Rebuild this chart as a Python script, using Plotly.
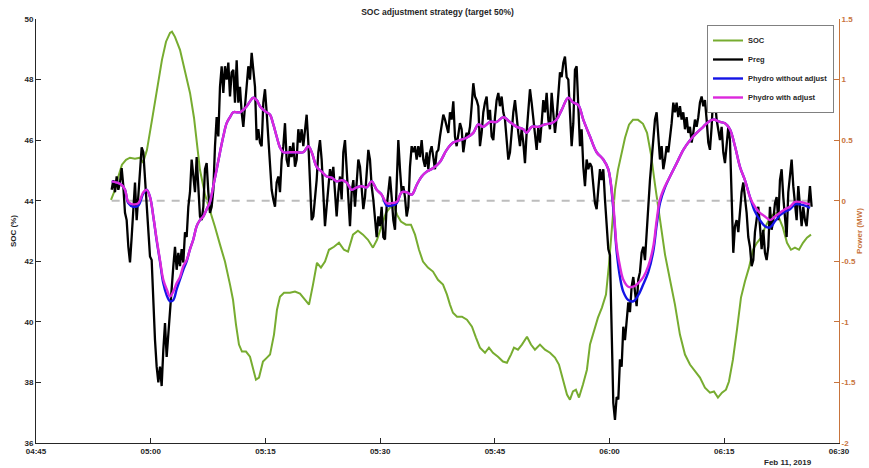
import numpy as np
import pandas as pd
import plotly.graph_objects as go

# ---------------- data ----------------
DAY = "2019-02-11"
START = "04:45:00"
END_MIN = 105  # 06:30

# Preg, regularly sampled (minutes after 04:45 of first sample, sample step in minutes)
preg_start_min = 9.894
preg_step_min = 0.21792
preg = [
    0.09, 0.17, 0.07, 0.20, 0.09, 0.15, 0.27, 0.12, -0.10, -0.16,
    -0.38, -0.51, -0.30, -0.05, 0.15, -0.16, 0.07, 0.28, 0.44, 0.40,
    0.17, -0.05, -0.21, -0.46, -0.49, -0.90, -1.15, -1.37, -1.50, -1.37,
    -1.53, -1.23, -1.01, -1.29, -1.09, -0.92, -0.68, -0.54, -0.38, -0.57,
    -0.43, -0.54, -0.40, -0.51, -0.26, -0.30, -0.05, 0.07, 0.34, 0.20,
    0.07, 0.36, 0.12, -0.13, -0.16, -0.05, 0.26, 0.31, 0.07, -0.10,
    -0.05, 0.09, 0.45, 0.69, 0.53, 0.94, 1.11, 0.89, 1.11, 1.00,
    1.14, 0.86, 1.06, 1.08, 0.81, 1.16, 0.81, 0.94, 0.73, 0.61,
    0.78, 0.97, 1.11, 1.00, 1.22, 1.08, 0.94, 0.50, 0.59, 0.48,
    0.45, 0.81, 0.92, 0.73, 0.53, 0.31, 0.09, 0.01, -0.05, 0.15,
    0.20,
    0.07, 0.34, 0.45, 0.64, 0.34, 0.28, 0.45, 0.36, 0.48, 0.28,
    0.34, 0.59, 0.48, 0.59, 0.45, 0.61, 0.71, 0.48, 0.20, -0.16,
    -0.13, 0.01, 0.17, 0.40, 0.50, 0.34, 0.07, -0.21, -0.05, 0.12,
    0.26, 0.17, 0.28, 0.07, -0.13, 0.07, 0.20, 0.01, 0.40, 0.50,
    0.23, -0.05, -0.21, 0.07, 0.17, -0.05, 0.12, 0.34, 0.28, 0.09,
    -0.07, 0.03, 0.28, 0.42, 0.34, 0.12, 0.01, -0.16, -0.30, -0.13,
    -0.21, -0.05, -0.30, -0.32, -0.05, 0.07, 0.20, 0.03, -0.16, -0.24,
    0.07, 0.50, 0.26, 0.07, 0.12, 0.03, -0.13, -0.05, 0.28, 0.45,
    0.40, 0.45, 0.34, 0.45, 0.36, 0.50, 0.34, 0.28, 0.40, 0.26,
    0.40, 0.45, 0.36, 0.26, 0.40, 0.42, 0.53, 0.64, 0.71, 0.67,
    0.61,
    0.56, 0.73, 0.67, 0.82, 0.53, 0.45, 0.56, 0.64, 0.59, 0.40,
    0.50, 0.56, 0.53, 0.61, 0.78, 0.97, 0.86, 0.83, 0.78, 0.45,
    0.56, 0.73, 0.81, 0.86, 0.67, 0.75, 0.53, 0.50, 0.69, 0.83,
    0.89, 0.78, 0.86, 0.73, 0.67, 0.53, 0.34, 0.40, 0.59, 0.73,
    0.83, 0.67, 0.56, 0.45, 0.59, 0.48, 0.31, 0.56, 0.78, 0.92,
    0.81, 0.67, 0.56, 0.42, 0.61, 0.48, 0.64, 0.83, 0.73, 0.89,
    0.67, 0.59, 0.89, 0.75, 0.56, 0.69, 0.92, 1.06, 1.02, 1.14,
    1.19, 1.02, 1.00, 0.73, 0.45, 0.64, 1.08, 1.11, 0.81, 0.45,
    0.59, 0.28, 0.12, 0.34, 0.26, 0.31, 0.28, 0.15, -0.02, -0.07,
    0.13, 0.26, 0.17, 0.26, 0.01, -0.22, -0.40,
    -0.45, -0.98, -1.67, -1.81, -1.62, -1.64, -1.31, -1.37, -1.04, -1.15,
    -0.96, -0.84, -0.92, -0.71, -0.63, -0.76, -0.87, -0.65, -0.59, -0.43,
    -0.38, -0.49, -0.21, -0.05, 0.17, 0.34, 0.53, 0.67, 0.73, 0.56,
    0.34, 0.45, 0.26, 0.34, 0.45, 0.40, 0.50, 0.64, 0.81, 0.73,
    0.81, 0.69, 0.78, 0.67, 0.73, 0.59, 0.69, 0.56, 0.61, 0.48,
    0.56, 0.67, 0.61, 0.69, 0.81, 0.86, 0.78, 0.83, 0.67, 0.48,
    0.42, 0.61, 0.89, 0.83, 0.67, 0.56, 0.50, 0.61, 0.40, 0.31,
    0.50, 0.61, 0.50, -0.05, -0.43, -0.21, -0.16, -0.26, -0.05, 0.07,
    0.15, 0.03, -0.10, -0.30, -0.38, -0.54, -0.49, -0.26, -0.16, -0.05,
    -0.21, -0.40, -0.24, -0.43, -0.49, -0.38, -0.05, -0.24, -0.16, -0.02,
    0.03, -0.16, 0.17, 0.26, 0.03, -0.16, -0.30, 0.07, 0.23, 0.34,
    0.12, -0.05, -0.16, 0.12, -0.05, -0.21, -0.05, -0.16, -0.21, -0.05,
    0.12, -0.05,
]

# Phydro (minutes after 04:45)
hydro_min = [
    9.90, 10.55, 11.21, 11.64, 12.07, 12.72, 13.38, 14.03, 14.47, 14.91,
    15.34, 15.78, 16.21, 16.64, 17.09, 17.52, 17.95, 18.40, 18.83, 19.26,
    19.70, 20.14, 20.57, 21.01, 21.44, 21.87, 22.32, 22.75, 23.18, 23.63,
    24.06, 24.49, 24.93, 25.37, 25.80, 26.24, 26.67, 27.11, 27.55, 27.98,
    28.41, 28.86, 29.29, 29.72, 30.16, 30.60, 31.03, 31.47, 31.90, 32.34,
    33.21, 34.09, 34.95, 35.60, 36.05, 36.70, 37.36, 38.01, 38.66, 39.32,
    39.98, 40.63, 41.28, 41.94, 42.59, 43.25, 43.89, 44.55, 45.20, 45.86,
    46.51, 47.17, 47.82, 48.47, 49.13, 49.78, 50.43, 51.09, 51.95, 52.82,
    53.70, 54.56, 55.44, 56.31, 57.18, 57.83, 58.48, 59.36, 60.24, 61.10,
    61.98, 62.85, 63.71, 64.16, 64.81, 65.68, 66.55, 67.43, 68.08, 68.74,
    69.60, 70.25, 70.91, 71.56, 72.44, 73.31, 74.18, 74.83, 75.48, 75.93,
    76.36, 76.79, 77.45, 78.10, 78.75, 79.41, 80.06, 80.71, 81.16, 81.59,
    82.25, 82.90, 83.78, 84.64, 85.52, 86.39, 87.25, 87.91, 88.56, 89.44,
    90.09, 90.74, 91.40, 92.05, 92.70, 93.36, 94.01, 94.66, 95.32, 95.97,
    96.63, 97.28, 97.93, 98.59, 99.24, 99.89, 100.55, 101.20,
]
phydro_adjust = [
    0.16, 0.15, 0.13, 0.09, -0.01, -0.03, -0.02, 0.07, 0.09, 0.03,
    -0.13, -0.32, -0.49, -0.65, -0.73, -0.79, -0.75, -0.68, -0.63, -0.54,
    -0.49, -0.40, -0.32, -0.21, -0.16, -0.13, -0.07, -0.01, 0.12, 0.26,
    0.40, 0.53, 0.64, 0.69, 0.73, 0.73, 0.73, 0.75, 0.78, 0.82,
    0.85, 0.83, 0.78, 0.75, 0.73, 0.71, 0.63, 0.53, 0.44, 0.40,
    0.40, 0.40, 0.40, 0.45, 0.40, 0.28, 0.24, 0.20, 0.19, 0.16,
    0.17, 0.15, 0.09, 0.11, 0.12, 0.11, 0.16, 0.09, 0.05, -0.02,
    -0.02, -0.01, 0.07, 0.07, 0.05, 0.13, 0.20, 0.24, 0.27, 0.32,
    0.42, 0.48, 0.50, 0.52, 0.56, 0.63, 0.61, 0.65, 0.65, 0.69,
    0.65, 0.61, 0.59, 0.56, 0.61, 0.61, 0.63, 0.64, 0.67, 0.75,
    0.85, 0.81, 0.79, 0.67, 0.53, 0.40, 0.34, 0.26, -0.03, -0.38,
    -0.54, -0.65, -0.71, -0.71, -0.68, -0.63, -0.54, -0.38, -0.16, 0.01,
    0.12, 0.20, 0.31, 0.42, 0.50, 0.56, 0.61, 0.65, 0.67, 0.65,
    0.64, 0.59, 0.45, 0.28, 0.17, 0.03, -0.05, -0.10, -0.13, -0.16,
    -0.13, -0.10, -0.07, -0.05, -0.01, -0.01, -0.02, -0.03,
]
phydro_noadjust = [
    0.16, 0.15, 0.13, 0.09, -0.02, -0.05, -0.04, 0.06, 0.09, 0.03,
    -0.13, -0.33, -0.50, -0.68, -0.78, -0.83, -0.82, -0.73, -0.65, -0.57,
    -0.50, -0.40, -0.32, -0.21, -0.16, -0.13, -0.07, -0.01, 0.12, 0.26,
    0.40, 0.53, 0.64, 0.69, 0.73, 0.73, 0.73, 0.75, 0.78, 0.82,
    0.85, 0.83, 0.78, 0.75, 0.73, 0.71, 0.63, 0.53, 0.44, 0.40,
    0.40, 0.40, 0.40, 0.45, 0.40, 0.28, 0.24, 0.20, 0.19, 0.16,
    0.17, 0.15, 0.09, 0.11, 0.12, 0.11, 0.16, 0.09, 0.05, -0.04,
    -0.04, -0.02, 0.07, 0.07, 0.05, 0.13, 0.20, 0.24, 0.27, 0.32,
    0.42, 0.48, 0.50, 0.52, 0.56, 0.63, 0.61, 0.65, 0.65, 0.69,
    0.65, 0.61, 0.59, 0.56, 0.61, 0.61, 0.63, 0.64, 0.67, 0.75,
    0.85, 0.81, 0.79, 0.67, 0.53, 0.40, 0.34, 0.26, -0.06, -0.42,
    -0.63, -0.75, -0.82, -0.83, -0.78, -0.69, -0.59, -0.42, -0.20, -0.02,
    0.11, 0.20, 0.31, 0.42, 0.50, 0.56, 0.61, 0.65, 0.67, 0.65,
    0.64, 0.59, 0.45, 0.28, 0.17, 0.03, -0.09, -0.16, -0.21, -0.22,
    -0.17, -0.12, -0.09, -0.07, -0.03, -0.03, -0.04, -0.06,
]

# SOC (minutes after 04:45, %)
soc_min = [
    9.81, 10.33, 10.72, 11.24, 11.77, 12.29, 12.94, 13.60, 13.99, 14.51,
    15.17, 15.82, 16.47, 17.00, 17.52, 17.78, 18.17, 18.83, 19.48, 20.14,
    20.66, 21.05, 21.44, 22.10, 22.75, 23.40, 24.06, 24.71, 25.37, 25.76,
    26.15, 26.54, 26.93, 27.46, 27.98, 28.37, 28.76, 29.16, 29.68, 30.20,
    30.60, 31.12, 31.51, 31.90, 32.43, 33.21, 33.86, 34.52, 35.17, 35.70,
    36.22, 36.74, 37.26, 37.79, 38.31, 38.97, 39.62, 40.27, 40.80, 41.45,
    42.10, 42.76, 43.41, 44.06, 44.59, 45.11, 45.76, 46.29, 46.68, 47.20,
    47.72, 48.38, 49.03, 49.56, 50.08, 50.60, 51.25, 51.91, 52.56, 53.22,
    53.74, 54.13, 54.52, 55.05, 55.70, 56.35, 57.01, 57.53, 58.05, 58.71,
    59.23, 59.75, 60.41, 61.06, 61.58, 62.11, 62.50, 63.02, 63.54, 64.20,
    64.72, 65.24, 65.90, 66.55, 67.21, 67.86, 68.38, 68.91, 69.43, 69.82,
    70.21, 70.60, 71.00, 71.52, 72.04, 72.44, 72.96, 73.48, 74.00, 74.53,
    74.92, 75.31, 75.71, 76.10, 76.49, 77.02, 77.54, 78.06, 78.72, 79.37,
    79.90, 80.42, 80.94, 81.59, 82.25, 82.90, 83.55, 84.20, 84.86, 85.51,
    86.16, 86.82, 87.47, 88.13, 88.65, 89.17, 89.70, 90.22, 90.61, 91.13,
    91.66, 92.18, 92.70, 93.23, 93.75, 94.27, 94.80, 95.32, 95.84, 96.37,
    96.89, 97.28, 97.67, 98.20, 98.72, 99.24, 99.77, 100.29, 100.81, 101.34,
]
soc = [
    44.03, 44.36, 44.76, 45.19, 45.35, 45.42, 45.39, 45.42, 45.25, 45.68,
    46.67, 47.66, 48.65, 49.25, 49.54, 49.58, 49.41, 48.98, 48.32, 47.56,
    46.74, 45.78, 45.02, 44.20, 43.70, 43.14, 42.55, 41.99, 41.23, 40.73,
    39.91, 39.25, 39.02, 39.02, 38.85, 38.49, 38.09, 38.16, 38.69, 38.82,
    38.92, 39.58, 40.40, 40.83, 40.96, 40.96, 41.00, 40.93, 40.73, 40.57,
    41.23, 41.95, 41.79, 41.99, 42.38, 42.48, 42.61, 42.38, 42.32, 42.88,
    43.01, 42.88, 42.71, 42.45, 42.71, 43.11, 43.60, 43.77, 43.93, 43.54,
    43.31, 43.21, 43.21, 42.88, 42.38, 41.99, 41.79, 41.66, 41.39, 41.23,
    40.90, 40.57, 40.30, 40.17, 40.17, 40.07, 39.84, 39.48, 39.15, 38.98,
    39.15, 38.98, 38.85, 38.69, 38.65, 38.92, 39.15, 39.08, 39.25, 39.51,
    39.25, 39.08, 39.25, 39.08, 38.98, 38.82, 38.59, 38.09, 37.60, 37.43,
    37.70, 37.76, 37.50, 37.93, 38.42, 39.25, 39.74, 40.14, 40.47, 40.90,
    41.89, 43.21, 44.36, 45.02, 45.52, 46.08, 46.51, 46.67, 46.67, 46.54,
    46.24, 45.52, 44.53, 43.37, 42.22, 41.39, 40.57, 39.58, 38.92, 38.59,
    38.36, 38.16, 37.83, 37.66, 37.70, 37.50, 37.66, 37.76, 38.03, 38.75,
    39.74, 40.80, 41.33, 41.79, 42.38, 42.61, 42.78, 43.11, 43.37, 43.54,
    43.60, 43.37, 43.11, 42.61, 42.38, 42.45, 42.38, 42.61, 42.78, 42.88,
]

x_tick_min = [0, 15, 30, 45, 60, 75, 90, 105]
x_tick_text = ["04:45", "05:00", "05:15", "05:30", "05:45", "06:00", "06:15", "06:30"]
soc_ticks = [36, 38, 40, 42, 44, 46, 48, 50]
power_ticks = [-2, -1.5, -1, -0.5, 0, 0.5, 1, 1.5]
power_tick_text = ["-2", "-1.5", "-1", "-0.5", "0", "0.5", "1", "1.5"]
zero_line = [0, 0]

# ---------------- figure ----------------
base = pd.Timestamp(f"{DAY} {START}")


def at(mins):
    return base + pd.to_timedelta(np.asarray(mins, dtype=float), unit="m")


preg_t = at(preg_start_min + preg_step_min * np.arange(len(preg)))
hydro_t = at(hydro_min)
soc_t = at(soc_min)

FONT = "Liberation Sans, Arial, Helvetica, sans-serif"
AX = "#262626"
ORANGE = "#C8743C"

fig = go.Figure()
fig.add_trace(go.Scatter(x=soc_t, y=soc, name="SOC", mode="lines",
                         line=dict(color="#77AC30", width=2), yaxis="y"))
fig.add_trace(go.Scatter(x=[preg_t[0], preg_t[-1]], y=zero_line, mode="lines",
                         showlegend=False, hoverinfo="skip",
                         line=dict(color="#BDBDBD", width=2, dash="8px,7px"), yaxis="y2"))
fig.add_trace(go.Scatter(x=preg_t, y=preg, name="Preg", mode="lines",
                         line=dict(color="#000000", width=2.3), yaxis="y2"))
fig.add_trace(go.Scatter(x=hydro_t, y=phydro_noadjust, name="Phydro without adjust",
                         mode="lines", line=dict(color="#1414E6", width=2.4, shape="spline"),
                         yaxis="y2"))
fig.add_trace(go.Scatter(x=hydro_t, y=phydro_adjust, name="Phydro with adjust",
                         mode="lines", line=dict(color="#DC28DC", width=2.4, shape="spline"),
                         yaxis="y2"))

tickfont = dict(family=FONT, size=8, color=AX, weight="bold")

fig.update_layout(
    width=869, height=468,
    margin=dict(l=36, r=30, t=19, b=25, autoexpand=False),
    paper_bgcolor="white", plot_bgcolor="white",
    font=dict(family=FONT, size=8, color=AX, weight="bold"),
    title=dict(text="SOC adjustment strategy (target 50%)", x=0.5, xref="paper",
               xanchor="center", y=1 - 12 / 468, yref="container", yanchor="middle",
               font=dict(family=FONT, size=8.5, color=AX, weight="bold")),
    xaxis=dict(type="date", range=[at([0])[0], at([END_MIN])[0]],
               tickvals=list(at(x_tick_min)), ticktext=x_tick_text,
               ticks="inside", ticklen=5, tickcolor=AX, tickwidth=1,
               showline=True, linecolor=AX, linewidth=1, showgrid=False,
               zeroline=False, tickfont=tickfont, automargin=False),
    yaxis=dict(range=[36, 50], tickvals=soc_ticks, ticks="inside", ticklen=5,
               tickcolor=AX, showline=True, linecolor=AX, linewidth=1,
               showgrid=False, zeroline=False, tickfont=tickfont, automargin=True,
               title=dict(text="SOC (%)", font=dict(family=FONT, size=8, color=AX, weight="bold"),
                          standoff=6)),
    yaxis2=dict(range=[-2, 1.5], overlaying="y", side="right", tickvals=power_ticks,
                ticktext=power_tick_text, ticks="inside", ticklen=5, tickcolor=ORANGE,
                showline=True, linecolor=ORANGE, linewidth=1, showgrid=False,
                zeroline=False, tickfont=dict(family=FONT, size=8, color=ORANGE, weight="bold"),
                automargin=True,
                title=dict(text="Power (MW)",
                           font=dict(family=FONT, size=8, color=ORANGE, weight="bold"),
                           standoff=1)),
    legend=dict(x=(834 - 36) / 803, y=1 - (25 - 19) / 424, xanchor="right", yanchor="top",
                bgcolor="white", bordercolor="#808080", borderwidth=1,
                font=dict(family=FONT, size=7.5, color=AX, weight="bold"),
                tracegroupgap=0, itemwidth=30),
    showlegend=True,
)

fig.add_annotation(text="Feb 11, 2019", xref="paper", yref="paper",
                   x=(788 - 36) / 803, y=-(462 - 443) / 424, xanchor="center",
                   yanchor="middle", showarrow=False,
                   font=dict(family=FONT, size=8, color=AX, weight="bold"))

fig.write_html("out.html", config={"displayModeBar": False},
               post_script="document.body.style.margin='0';document.body.style.padding='0';")
